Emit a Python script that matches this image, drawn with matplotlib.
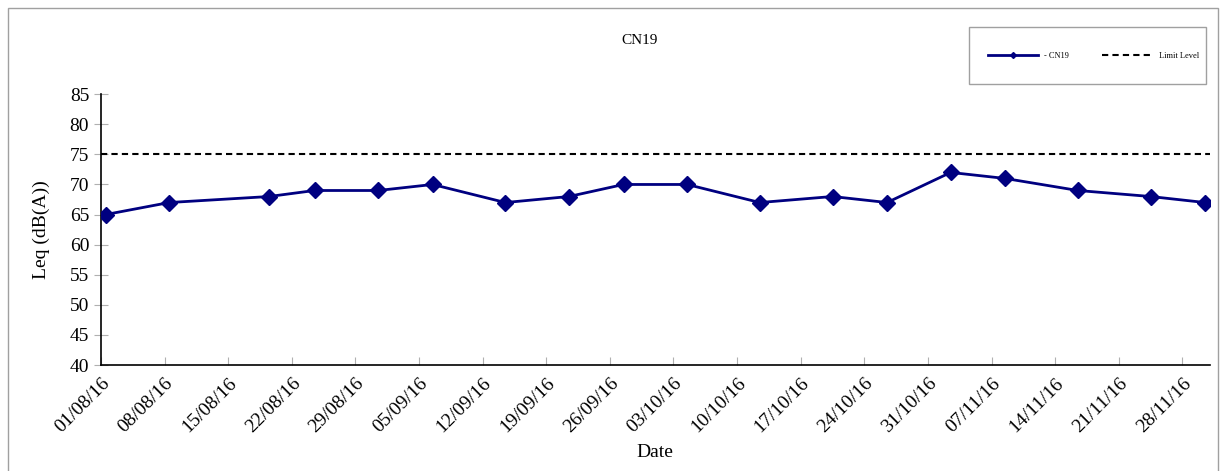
import numpy as np
import pandas as pd
import matplotlib
matplotlib.use("Agg")
import matplotlib.pyplot as plt
import matplotlib.dates as mdates
from matplotlib.lines import Line2D
from matplotlib.patches import Rectangle

plt.rcParams['font.family'] = ['Liberation Serif', 'DejaVu Serif']

# measurement dates and levels
dates = ["2016-08-01", "2016-08-08", "2016-08-19", "2016-08-24", "2016-08-31",
         "2016-09-06", "2016-09-14", "2016-09-21", "2016-09-27", "2016-10-04",
         "2016-10-12", "2016-10-20", "2016-10-26", "2016-11-02", "2016-11-08",
         "2016-11-16", "2016-11-24", "2016-11-30"]
leq = [65, 67, 68, 69, 69, 70, 67, 68, 70, 70, 67, 68, 67, 72, 71, 69, 68, 67]
limit_level = 75
series_name = "CN19"

# points sit in the middle of each day slot (Excel date axis)
x = pd.to_datetime(dates) + pd.Timedelta(hours=12)

fig = plt.figure(figsize=(12.21, 4.71), dpi=100)
ax = fig.add_axes([0.0827, 0.225, 0.908, 0.575])

ax.plot(x, leq, color="#000080", lw=2, marker="D", ms=8, zorder=3)
ax.axhline(limit_level, color="black", ls=(0, (3, 2)), lw=1.5)

ax.set_xlim(pd.Timestamp("2016-08-01"), pd.Timestamp("2016-12-01"))
ax.set_ylim(40, 85)
ax.set_yticks(np.arange(40, 86, 5))
ax.xaxis.set_major_locator(mdates.WeekdayLocator(byweekday=mdates.MO))
ax.xaxis.set_major_formatter(mdates.DateFormatter("%d/%m/%y"))
plt.setp(ax.get_xticklabels(), rotation=45, ha="right", rotation_mode="anchor")

ax.tick_params(axis="y", direction="inout", length=10, color="#b0b0b0", labelsize=14)
ax.tick_params(axis="x", direction="in", length=6, color="#b0b0b0", labelsize=14, pad=7)
for s in ["top", "right"]:
    ax.spines[s].set_visible(False)
ax.spines["left"].set_linewidth(1.2)
ax.spines["bottom"].set_linewidth(1.2)

ax.set_ylabel("Leq (dB(A))", fontsize=14, labelpad=14)
ax.set_xlabel("Date", fontsize=14, labelpad=6)
fig.text(640 / 1221, 1 - 40 / 471, series_name, ha="center", va="center", fontsize=11)

# legend box
handles = [Line2D([], [], color="#000080", lw=2, marker="D", ms=3),
           Line2D([], [], color="black", lw=1.5, ls=(0, (3, 2)))]
leg = fig.legend(handles, ["- " + series_name, "Limit Level"], ncol=2,
                 loc="center", bbox_to_anchor=(975 / 1221, 1 - 84 / 471, 237 / 1221, 57 / 471),
                 fontsize=6, frameon=False, handlelength=6, columnspacing=4)
fig.patches.append(Rectangle((969 / 1221, 1 - 84 / 471), 237 / 1221, 57 / 471,
                             transform=fig.transFigure, fill=False, ec="#a0a0a0", lw=1))

# outer chart border
fig.patches.append(Rectangle((8 / 1221, -0.01), 1210 / 1221, 1 - 8 / 471 + 0.01,
                             transform=fig.transFigure, fill=False, ec="#a0a0a0", lw=1))

fig.savefig("out.png", dpi=100)
